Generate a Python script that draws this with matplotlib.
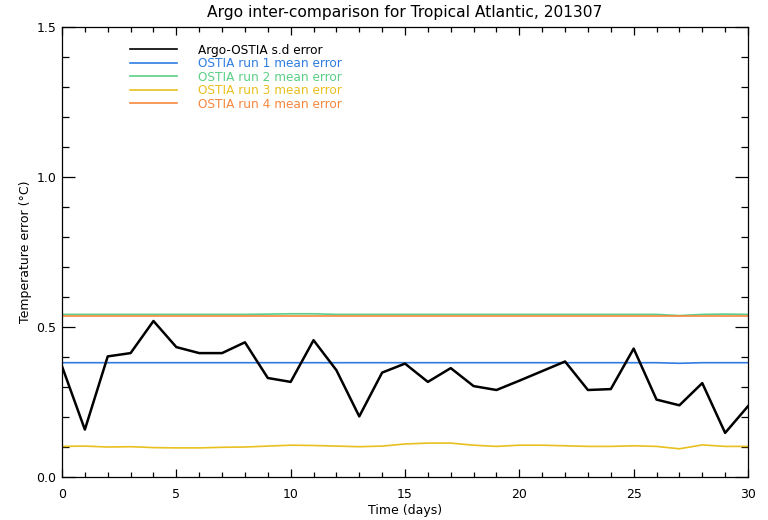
import matplotlib
matplotlib.use("Agg")
import matplotlib.pyplot as plt
from matplotlib.ticker import MultipleLocator

days = list(range(31))
sd_error = [0.369, 0.158, 0.402, 0.413, 0.520, 0.433, 0.413, 0.413, 0.449, 0.330,
            0.317, 0.456, 0.356, 0.202, 0.348, 0.378, 0.317, 0.363, 0.303, 0.290,
            0.321, 0.353, 0.385, 0.290, 0.293, 0.428, 0.258, 0.239, 0.313, 0.147,
            0.236]
run1 = [0.381] * 27 + [0.379, 0.381, 0.381, 0.381]
run2 = [0.542] * 9 + [0.543, 0.544, 0.544] + [0.542] * 15 + [0.538, 0.542, 0.543, 0.542]
run3 = [0.102, 0.103, 0.100, 0.101, 0.098, 0.097, 0.097, 0.099, 0.100, 0.103,
        0.106, 0.105, 0.103, 0.101, 0.103, 0.110, 0.113, 0.113, 0.106, 0.102,
        0.106, 0.106, 0.104, 0.102, 0.102, 0.104, 0.102, 0.094, 0.107, 0.102,
        0.102]
run4 = [0.538] * 31

labels = ["Argo-OSTIA s.d error", "OSTIA run 1 mean error", "OSTIA run 2 mean error",
          "OSTIA run 3 mean error", "OSTIA run 4 mean error"]
colors = ["#000000", "#2f7de1", "#5ccf86", "#e8c020", "#f7873f"]

plt.rcParams['font.family'] = ['DejaVu Sans']
fig = plt.figure(figsize=(7.68, 5.20), dpi=100)
ax = fig.add_axes([62 / 768, 1 - 477 / 520, 686 / 768, 450 / 520])

ax.plot(days, run2, color=colors[2], lw=1.2, label=labels[2], zorder=2)
ax.plot(days, run4, color=colors[4], lw=1.2, label=labels[4], zorder=2)
ax.plot(days, run1, color=colors[1], lw=1.2, label=labels[1], zorder=2)
ax.plot(days, run3, color=colors[3], lw=1.2, label=labels[3], zorder=2)
ax.plot(days, sd_error, color=colors[0], lw=1.8, label=labels[0], zorder=3)

ax.set_xlim(0, 30)
ax.set_ylim(0, 1.5)
ax.xaxis.set_major_locator(MultipleLocator(5))
ax.xaxis.set_minor_locator(MultipleLocator(1))
ax.yaxis.set_major_locator(MultipleLocator(0.5))
ax.yaxis.set_minor_locator(MultipleLocator(0.1))
ax.xaxis.set_major_formatter(matplotlib.ticker.FormatStrFormatter('%d'))
ax.yaxis.set_major_formatter(matplotlib.ticker.FormatStrFormatter('%.1f'))
ax.tick_params(axis='both', which='both', direction='in', top=True, right=True,
               labelsize=9, colors='black', width=0.9)
ax.tick_params(axis='x', which='major', length=6, pad=8)
ax.tick_params(axis='x', which='minor', length=3.5)
ax.tick_params(axis='y', which='major', length=9.5, pad=4)
ax.tick_params(axis='y', which='minor', length=5)
for s in ax.spines.values():
    s.set_linewidth(0.9)

ax.set_title("Argo inter-comparison for Tropical Atlantic, 201307", fontsize=11.2, pad=7)
ax.set_xlabel("Time (days)", fontsize=9, labelpad=2)
ax.set_ylabel("Temperature error (\u00b0C)", fontsize=9, labelpad=3)

handles, labs = ax.get_legend_handles_labels()
order = [labs.index(l) for l in labels]
leg = ax.legend([handles[i] for i in order], [labs[i] for i in order],
                loc='upper left', bbox_to_anchor=(0.0991, 0.963), frameon=False,
                prop={'size': 8.7}, handlelength=3.89,
                handletextpad=1.74, labelspacing=0.04, borderpad=0.0,
                borderaxespad=0.0, labelcolor='linecolor')
for h in leg.get_lines():
    h.set_linewidth(1.2)

fig.savefig("out.png", dpi=100)
